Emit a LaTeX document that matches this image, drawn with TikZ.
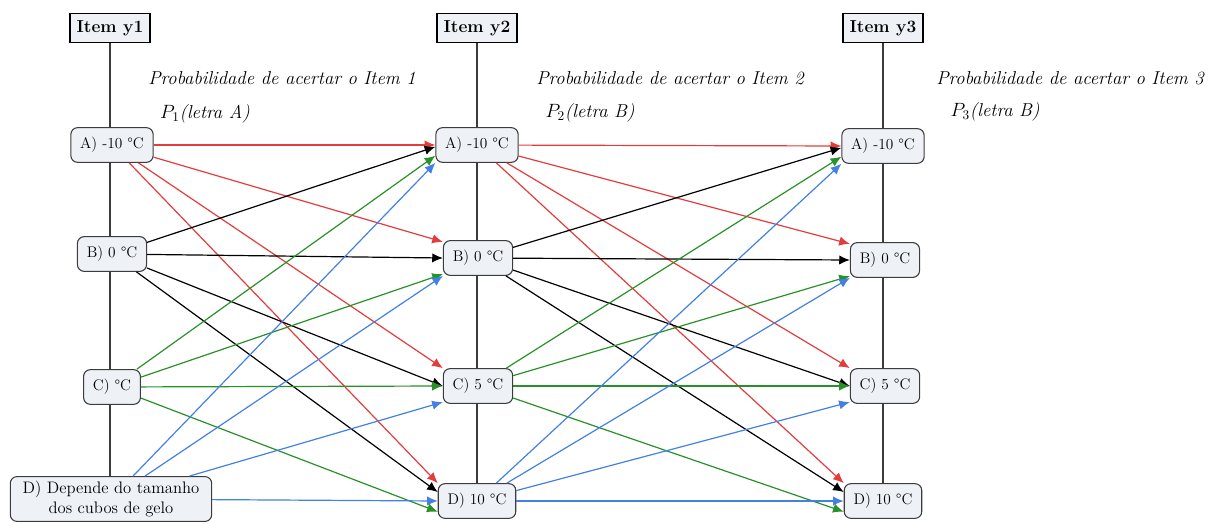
\documentclass[tikz,border=0pt]{standalone}
\usepackage{tikz}
\usepackage{xcolor}
\usetikzlibrary{arrows.meta, calc, backgrounds}
\definecolor{linered}{RGB}{228,60,60}
\definecolor{linegreen}{RGB}{40,145,40}
\definecolor{lineblue}{RGB}{66,128,228}
\definecolor{boxfill}{RGB}{238,242,246}
\definecolor{boxline}{RGB}{60,60,60}

\tikzset{
  itembox/.style={draw, line width=1.1pt, fill=boxfill, inner xsep=5pt, minimum height=22pt,
    font=\fontsize{13}{15}\selectfont\bfseries},
  answer/.style={draw=boxline, line width=0.8pt, fill=boxfill, rounded corners=5pt,
    inner xsep=7pt, minimum height=26pt, align=center, font=\fontsize{11.5}{13.5}\selectfont},
  probtext/.style={font=\fontsize{14}{16}\selectfont\itshape},
  link/.style={line width=0.9pt, -{Latex[length=8pt,width=7pt]}},
}

\begin{document}
\begin{tikzpicture}[x=0.75pt, y=-0.75pt]
    \useasboundingbox (0,0) rectangle (1227,524);

    % column headers
    \node[itembox] (item1) at (110,28) {Item y1};
    \node[itembox] (item2) at (477,28) {Item y2};
    \node[itembox] (item3) at (883,28) {Item y3};

    \node[probtext] (prob1) at (282,78) {Probabilidade de acertar o Item 1};
    \node[probtext] (prob2) at (670,78) {Probabilidade de acertar o Item 2};
    \node[probtext] (prob3) at (1070,78) {Probabilidade de acertar o Item 3};

    \node[probtext] (pa) at (205,114) {$P_1$(letra A)};
    \node[probtext] (pb) at (590,113) {$P_2$(letra B)};
    \node[probtext] (pc) at (995,112) {$P_3$(letra B)};

    % answers of item y1
    \node[answer] (a1) at (112,145) {A) -10 \textdegree C};
    \node[answer] (b1) at (112,254) {B) 0 \textdegree C};
    \node[answer] (c1) at (112,387) {C) \textdegree C};
    \node[answer, inner xsep=4pt, minimum width=151pt, font=\fontsize{12.5}{15}\selectfont]
        (d1) at (111,499) {D) Depende do tamanho\\dos cubos de gelo};

    % answers of item y2
    \node[answer] (a2) at (477,145) {A) -10 \textdegree C};
    \node[answer] (b2) at (478,258) {B) 0 \textdegree C};
    \node[answer] (c2) at (478,386) {C) 5 \textdegree C};
    \node[answer] (d2) at (477,501) {D) 10 \textdegree C};

    % answers of item y3
    \node[answer] (a3) at (883,146) {A) -10 \textdegree C};
    \node[answer] (b3) at (885,260) {B) 0 \textdegree C};
    \node[answer] (c3) at (885,386) {C) 5 \textdegree C};
    \node[answer] (d3) at (883,501) {D) 10 \textdegree C};

    \begin{scope}[on background layer]
        \foreach \k in {1,2,3}
            \draw[boxline, line width=0.8pt] (item\k.south) -- (item\k.south |- d\k.north);
    \end{scope}

    % every answer leads to every answer of the next item
    \foreach \p/\q in {1/2, 2/3}
        \foreach \s/\t/\f/\c in {a/a/0.5/linered, a/b/0.05/linered, a/c/0/linered, a/d/0/linered,
                                 b/a/0.55/black, b/b/0.5/black, b/c/0.5/black, b/d/0.25/black,
                                 c/a/0.8/linegreen, c/b/0.95/linegreen, c/c/0.5/linegreen, c/d/0.8/linegreen,
                                 d/a/1/lineblue, d/b/1/lineblue, d/c/0.95/lineblue, d/d/0.5/lineblue}
            \draw[link, \c] (\s\p) -- ($(\t\q.north west)!\f!(\t\q.south west)$);
\end{tikzpicture}
\end{document}
